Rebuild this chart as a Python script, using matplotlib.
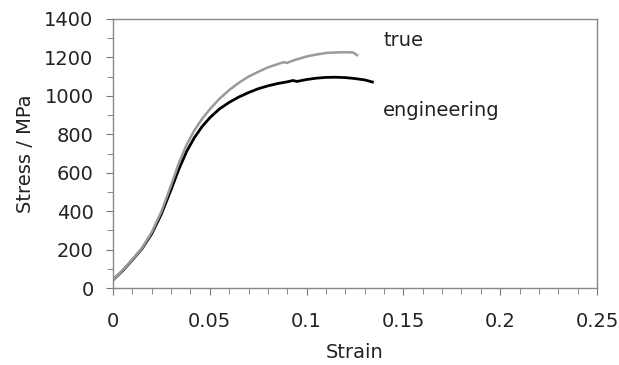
import matplotlib.pyplot as plt
from matplotlib.ticker import MultipleLocator, FuncFormatter

# engineering stress-strain (black)
eng_strain = [0, 0.005, 0.010, 0.015, 0.020, 0.025, 0.030, 0.034, 0.038, 0.042,
              0.046, 0.050, 0.055, 0.060, 0.065, 0.070, 0.075, 0.080, 0.085, 0.090,
              0.093, 0.095, 0.100, 0.105, 0.110, 0.115, 0.120, 0.125, 0.130, 0.134]
eng_stress = [42, 90, 146, 205, 282, 385, 512, 618, 710, 782,
              840, 886, 932, 966, 994, 1017, 1037, 1052, 1064, 1073,
              1080, 1075, 1085, 1092, 1096, 1097, 1095, 1090, 1083, 1072]

# true stress-strain (grey)
true_strain = [0, 0.005, 0.010, 0.015, 0.020, 0.025, 0.030, 0.034, 0.038, 0.042,
               0.046, 0.050, 0.055, 0.060, 0.065, 0.070, 0.075, 0.080, 0.085, 0.088,
               0.090, 0.092, 0.095, 0.100, 0.105, 0.110, 0.115, 0.120, 0.124, 0.126]
true_stress = [42, 92, 148, 208, 290, 398, 535, 650, 745, 820,
               880, 930, 985, 1030, 1068, 1100, 1125, 1148, 1165, 1175,
               1172, 1180, 1190, 1205, 1215, 1223, 1226, 1227, 1226, 1212]

plt.rcParams['font.family'] = 'DejaVu Sans'
fs = 14
fig = plt.figure(figsize=(6.19, 3.65), dpi=100)
ax = fig.add_axes([113 / 619, 1 - 288 / 365, 484 / 619, 269 / 365])

ax.plot(eng_strain, eng_stress, color='black', lw=2.0)
ax.plot(true_strain, true_stress, color='#9a9a9a', lw=1.8)

ax.set_xlim(0, 0.25)
ax.set_ylim(0, 1400)
ax.xaxis.set_major_locator(MultipleLocator(0.05))
ax.xaxis.set_minor_locator(MultipleLocator(0.01))
ax.yaxis.set_major_locator(MultipleLocator(200))
ax.yaxis.set_minor_locator(MultipleLocator(100))
ax.xaxis.set_major_formatter(FuncFormatter(lambda v, p: f"{v:g}"))

ax.tick_params(which='both', direction='out', color='#777777', labelsize=fs,
               labelcolor='#222222')
ax.tick_params(which='major', length=5)
ax.tick_params(which='minor', length=4)
ax.tick_params(axis='x', pad=12)
ax.tick_params(axis='y', pad=9)
for s in ax.spines.values():
    s.set_color('#888888')
    s.set_linewidth(1.0)

ax.set_xlabel('Strain', fontsize=fs, color='#222222', labelpad=9)
ax.set_ylabel('Stress / MPa', fontsize=fs, color='#222222', labelpad=7)

ax.text(0.1395, 1290, 'true', fontsize=fs, color='#222222', va='center')
ax.text(0.1395, 925, 'engineering', fontsize=fs, color='#222222', va='center')

fig.savefig('out.png', dpi=100)
